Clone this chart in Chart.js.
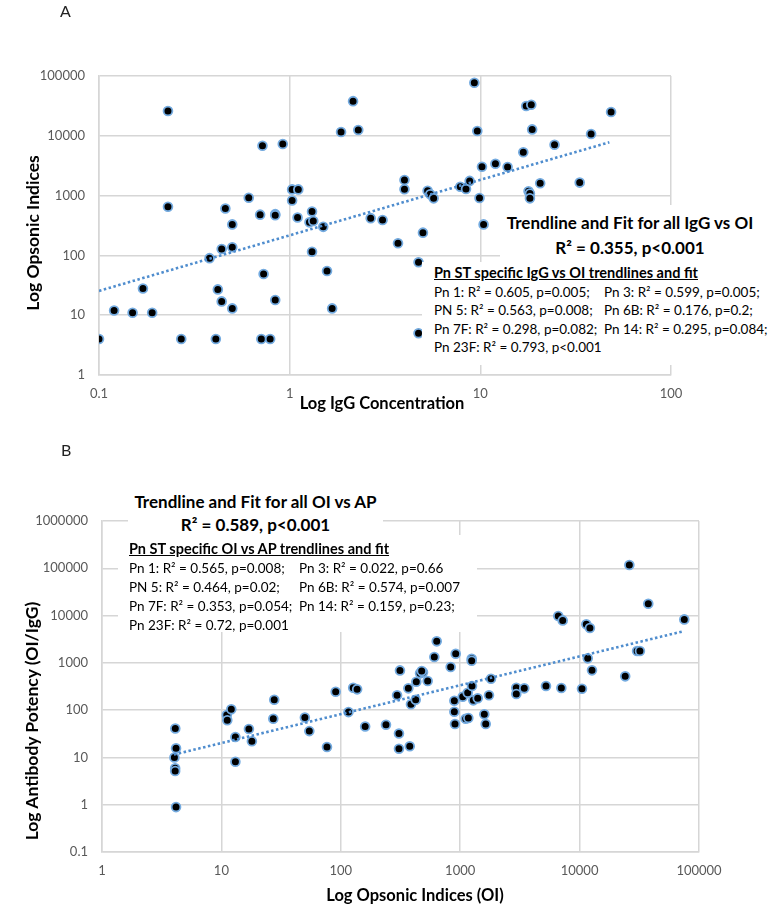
<!DOCTYPE html>
<html>
<head>
<meta charset="utf-8">
<script src="https://cdn.jsdelivr.net/npm/chart.js@4.4.1/dist/chart.umd.min.js"></script>
<style>
  html, body { margin: 0; padding: 0; background: #fff; }
  body { width: 772px; height: 906px; position: relative; overflow: hidden;
         font-family: Lato, 'Open Sans', sans-serif; color: #000; }
  canvas { position: absolute; left: 0; }
  #chartA { top: 0; }
  #chartB { top: 430px; }
  .panel { position: absolute; font-size: 16px; color: #222; }
  .axis-title { position: absolute; font-weight: 700; white-space: nowrap; }
  .xtitle { font-size: 16.5px; transform: translate(-50%, -50%); }
  .ytitle { font-size: 17.5px; transform: translate(-50%, -50%) rotate(-90deg); }
  .box { position: absolute; background: #fff; white-space: nowrap; }
  .fit-head { font-weight: 700; font-size: 17px; text-align: center; }
  .fit-list { font-size: 13.5px; padding-left: 12px; box-sizing: border-box; }
  .fit-list .hd { font-weight: 700; text-decoration: underline; font-size: 14.5px; line-height: 20px; }
  .fit-list .c1 { display: inline-block; width: 170px; }
</style>
</head>
<body>
<canvas id="chartA" width="772" height="430"></canvas>
<canvas id="chartB" width="772" height="476"></canvas>

<!-- panel letters + axis titles -->
<div class="panel" style="left:60px; top:1px;">A</div>
<div class="panel" style="left:61px; top:440px;">B</div>
<div class="axis-title xtitle" style="left:382px; top:403px;">Log IgG Concentration</div>
<div class="axis-title ytitle" style="left:32px; top:233px;">Log Opsonic Indices</div>
<div class="axis-title xtitle" style="left:415px; top:895px;">Log Opsonic Indices (OI)</div>
<div class="axis-title ytitle" style="left:31px; top:721px;">Log Antibody Potency (OI/IgG)</div>

<!-- panel A fit boxes -->
<div class="box fit-head" style="left:500px; top:205px; width:260px; height:57px; padding-top:5px; line-height:25px; box-sizing:border-box;">
  Trendline and Fit for all IgG vs OI<br>R² = 0.355, p&lt;0.001
</div>
<div class="box fit-list" style="left:422px; top:262px; width:350px; height:103px; padding-top:1px; line-height:18.4px;">
  <div class="hd">Pn ST specific IgG vs OI trendlines and fit</div>
  <div><span class="c1">Pn 1: R² = 0.605, p=0.005;</span>Pn 3: R² = 0.599, p=0.005;</div>
  <div><span class="c1">PN 5: R² = 0.563, p=0.008;</span>Pn 6B: R² = 0.176, p=0.2;</div>
  <div><span class="c1">Pn 7F: R² = 0.298, p=0.082;</span>Pn 14: R² = 0.295, p=0.084;</div>
  <div>Pn 23F: R² = 0.793, p&lt;0.001</div>
</div>

<!-- panel B fit boxes -->
<div class="box fit-head" style="left:128px; top:490px; width:255px; height:45px; line-height:23px;">
  Trendline and Fit for all OI vs AP<br>R² = 0.589, p&lt;0.001
</div>
<div class="box fit-list" style="left:118px; top:535px; width:359px; height:97px; padding-left:11px; padding-top:4px; line-height:19px;">
  <div class="hd">Pn ST specific OI vs AP trendlines and fit</div>
  <div><span class="c1">Pn 1: R² = 0.565, p=0.008;</span>Pn 3: R² = 0.022, p=0.66</div>
  <div><span class="c1">PN 5: R² = 0.464, p=0.02;</span>Pn 6B: R² = 0.574, p=0.007</div>
  <div><span class="c1">Pn 7F: R² = 0.353, p=0.054;</span>Pn 14: R² = 0.159, p=0.23;</div>
  <div>Pn 23F: R² = 0.72, p=0.001</div>
</div>

<script>
// ─────────────────────────────────────────────
// DATA — panel A: IgG concentration vs opsonic index
// ─────────────────────────────────────────────
const IGG_A = [0.1, 0.12, 0.15, 0.17, 0.19, 0.23, 0.23, 0.27, 0.38, 0.41,
  0.42, 0.44, 0.44, 0.46, 0.50, 0.50, 0.50, 0.61, 0.70, 0.71,
  0.72, 0.73, 0.79, 0.84, 0.84, 0.84, 0.92, 1.03, 1.03, 1.10,
  1.11, 1.27, 1.31, 1.31, 1.33, 1.50, 1.57, 1.67, 1.86, 2.15,
  2.29, 2.66, 3.07, 3.70, 4.0, 4.0, 4.74, 4.74, 5.0, 5.29,
  5.46, 5.69, 7.85, 8.41, 8.79, 9.3, 9.64, 9.9, 10.2, 10.4,
  12.0, 13.9, 16.8, 17.4, 18.5, 18.7, 17.9, 18.2, 18.2, 20.6,
  24.5, 33.2, 38.1, 48.5];
const OI_A = [4, 12, 11, 28, 11, 26000, 650, 4, 90, 4,
  27, 17, 128, 610, 13, 137, 330, 920, 480, 4,
  6800, 49, 4, 490, 470, 18, 7300, 1270, 830, 430,
  1270, 357, 540, 115, 376, 300, 55, 13, 11600, 38000,
  12500, 420, 390, 160, 1820, 1280, 77, 5, 240, 1200,
  1050, 900, 1410, 1290, 1760, 77000, 12000, 910, 3040, 330,
  3410, 3010, 5300, 31500, 33000, 12800, 1180, 1080, 900, 1610,
  7100, 1650, 10700, 25000];
const TREND_A_X = [0.1, 47.5];
const TREND_A_Y = [25.5, 7800];
const X_TICKS_A = [0.1, 1, 10, 100];
const Y_TICKS_A = [1, 10, 100, 1000, 10000, 100000];

// ─────────────────────────────────────────────
// DATA — panel B: opsonic index vs antibody potency
// ─────────────────────────────────────────────
const OI_B = [4.11, 4.17, 4.04, 4.1, 4.1, 4.17, 11.1, 11.2, 12.1, 13.1,
  13.1, 17.0, 18.0, 27.7, 27.2, 50, 54.5, 76.6, 90.6, 116,
  127, 137, 160, 239, 296, 313, 307, 307, 368, 387,
  424, 429, 461, 488, 476, 534, 378, 607, 636, 832,
  917, 893, 893, 904, 1050, 1112, 1170, 1156, 1248, 1248,
  1256, 1288, 1402, 1592, 1636, 1742, 1811, 2950, 2950, 3440,
  5230, 7030, 10470, 6630, 7220, 11380, 12200, 11700, 12700, 24100,
  26100, 30300, 32000, 37600, 75300];
const AP_B = [41, 15.6, 10, 5.9, 5.15, 0.89, 79, 61, 104, 27,
  8.1, 40, 22, 166, 66, 70, 36, 16.6, 245, 91,
  298, 275, 45, 49, 206, 693, 32, 15.3, 289, 133,
  166, 398, 600, 630, 670, 412, 17.2, 1327, 2850, 815,
  1556, 158, 92.5, 50.8, 192, 66, 68, 233, 1222, 1107,
  323, 161, 178, 81.5, 50.8, 206, 461, 298, 219, 289,
  323, 293, 283, 9760, 7910, 6520, 5440, 1245, 694, 518,
  117000, 1776, 1776, 17800, 8300];
const TREND_B_X = [4, 75000];
const TREND_B_Y = [11.5, 4700];
const X_TICKS_B = [1, 10, 100, 1000, 10000, 100000];
const Y_TICKS_B = [0.1, 1, 10, 100, 1000, 10000, 100000, 1000000];

// ─────────────────────────────────────────────
// HELPERS
// ─────────────────────────────────────────────
const GRID_COLOR = '#d6d6d6';
const TICK_FONT  = { family: 'Lato', size: 13 };

function pairs(xs, ys) {
  return xs.map((x, i) => ({ x, y: ys[i] }));
}

function logAxis(ticks, min, max, fitKey, fitSize, pad) {
  return {
    type: 'logarithmic',
    min, max,
    afterBuildTicks: scale => { scale.ticks = ticks.map(v => ({ value: v })); },
    afterFit: scale => { scale[fitKey] = fitSize; },
    grid: { color: GRID_COLOR, lineWidth: 1.5, drawTicks: false },
    border: { color: GRID_COLOR, width: 1.5 },
    ticks: {
      autoSkip: false, maxRotation: 0, padding: pad,
      color: '#595959', font: TICK_FONT,
      callback: v => String(v)
    }
  };
}

function makeScatter(id, pts, trend, axes, padding) {
  const ctx = document.getElementById(id).getContext('2d');
  return new Chart(ctx, {
    type: 'scatter',
    data: {
      datasets: [
        {
          type: 'line',
          data: trend,
          borderColor: '#4f8dce',
          borderWidth: 2.6,
          borderDash: [2.5, 2.5],
          pointRadius: 0,
          fill: false,
          order: 0
        },
        {
          data: pts,
          backgroundColor: '#000',
          borderColor: '#74abe0',
          borderWidth: 1.8,
          pointRadius: 4.4,
          order: 1
        }
      ]
    },
    options: {
      responsive: false,
      animation: false,
      layout: { padding },
      plugins: { legend: { display: false }, tooltip: { enabled: false } },
      scales: axes
    }
  });
}

// ─────────────────────────────────────────────
// CHART A — plot area 99..671 x 76..375
// ─────────────────────────────────────────────
makeScatter('chartA',
  pairs(IGG_A, OI_A),
  pairs(TREND_A_X, TREND_A_Y),
  {
    x: logAxis(X_TICKS_A, 0.1, 100, 'height', 55, 11),
    y: logAxis(Y_TICKS_A, 1, 100000, 'width', 99, 14)
  },
  { top: 76, right: 101, left: 0, bottom: 0 });

// ─────────────────────────────────────────────
// CHART B — plot area 102..699 x 521..852 (page)
// ─────────────────────────────────────────────
makeScatter('chartB',
  pairs(OI_B, AP_B),
  pairs(TREND_B_X, TREND_B_Y),
  {
    x: logAxis(X_TICKS_B, 1, 100000, 'height', 54, 11),
    y: logAxis(Y_TICKS_B, 0.1, 1000000, 'width', 102, 14)
  },
  { top: 91, right: 73, left: 0, bottom: 0 });
</script>
</body>
</html>
